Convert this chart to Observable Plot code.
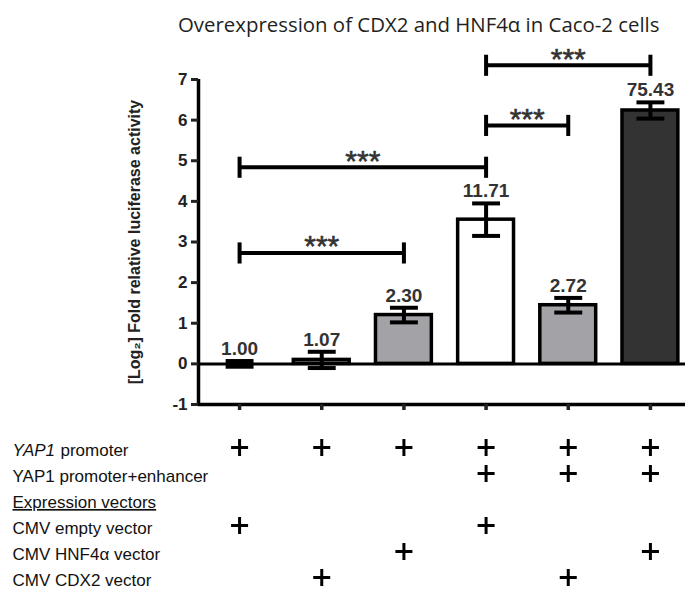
<!DOCTYPE html>
<html><head><meta charset="utf-8">
<script src="https://cdn.jsdelivr.net/npm/d3@7"></script>
<script src="https://cdn.jsdelivr.net/npm/@observablehq/plot@0.6"></script>
<style>
body{margin:0;background:#fff;width:685px;height:592px;overflow:hidden;}
#title{height:38px;box-sizing:border-box;padding:14px 0 0 178px;font-family:"Open Sans",sans-serif;font-size:20.4px;line-height:20px;color:#231f20;white-space:nowrap;}
svg{display:block}
</style></head><body>
<div id="title">Overexpression of CDX2 and HNF4α in Caco-2 cells</div>
<div id="chart"></div>
<div id="table"></div>
<script>
// ---- data ----
const conditions = ["promoter+empty", "promoter+CDX2", "promoter+HNF4α", "enhancer+empty", "enhancer+CDX2", "enhancer+HNF4α"];
const foldChange = [1.00, 1.07, 2.30, 11.71, 2.72, 75.43];
const errLog2 = [0.07, 0.20, 0.18, 0.40, 0.18, 0.20];
const barGroup = ["empty", "CDX2", "HNF4α", "empty+enh", "CDX2+enh", "HNF4α+enh"];

const sigFrom = [0, 0, 3, 3];
const sigTo = [2, 3, 4, 5];
const sigLevel = [2.73, 4.84, 5.87, 7.35];
const sigLabel = ["***", "***", "***", "***"];

const yTicks = [-1, 0, 1, 2, 3, 4, 5, 6, 7];
const yLabel = "[Log₂] Fold relative luciferase activity";

const tableRows = ["YAP1 promoter", "YAP1 promoter+enhancer", "Expression vectors", "CMV empty vector", "CMV HNF4α vector", "CMV CDX2 vector"];
const hasPromoter = [1, 1, 1, 1, 1, 1];
const hasEnhancer = [0, 0, 0, 1, 1, 1];
const hasEmpty    = [1, 0, 0, 1, 0, 0];
const hasHNF4a    = [0, 0, 1, 0, 0, 1];
const hasCDX2     = [0, 1, 0, 0, 1, 0];

// ---- derived ----
const bars = conditions.map((c, i) => {
  const v = Math.log2(foldChange[i]);
  return {i, cond: c, group: barGroup[i], v, lo: v - errLog2[i], hi: v + errLog2[i], label: foldChange[i].toFixed(2)};
});
const sig = sigFrom.map((a, k) => ({a, b: sigTo[k], mid: (a + sigTo[k]) / 2, level: sigLevel[k], lab: sigLabel[k]}));

const plusData = [];
[[tableRows[0], hasPromoter], [tableRows[1], hasEnhancer], [tableRows[3], hasEmpty], [tableRows[4], hasHNF4a], [tableRows[5], hasCDX2]]
  .forEach(([row, flags]) => flags.forEach((f, i) => { if (f) plusData.push({row, i}); }));

const xOpts = {type: "linear", domain: [-0.5, 5.5], range: [198, 691], axis: null};
const half = 0.34, capHalf = 0.17;
const font = "'Liberation Sans', Arial, sans-serif";

const chart = Plot.plot({
  width: 685, height: 399,
  marginTop: 41, marginBottom: 33, marginLeft: 198, marginRight: 0,
  style: {fontFamily: font, color: "#222", background: "transparent", overflow: "visible"},
  x: xOpts,
  y: {domain: [-1, 7], axis: null},
  color: {domain: barGroup, range: ["#111111", "#a3a3a7", "#a3a3a7", "#ffffff", "#a3a3a7", "#333333"]},
  marks: [
    Plot.rectY(bars, {x1: d => d.i - half, x2: d => d.i + half, y1: 0, y2: "v", fill: "group", stroke: "#000", strokeWidth: 3.5}),
    Plot.ruleY([0], {stroke: "#000", strokeWidth: 3}),
    Plot.ruleY([-1], {stroke: "#000", strokeWidth: 3.5}),
    Plot.ruleX([-0.5], {y1: -1, y2: 7, stroke: "#000", strokeWidth: 3.5}),
    Plot.axisY({ticks: yTicks, tickSize: 7, tickPadding: 4, strokeWidth: 3, fontSize: 17, fontWeight: "bold", tickFormat: d => String(d), label: null, anchor: "left"}),
    Plot.axisX({ticks: [0, 1, 2, 3, 4, 5], tickSize: 6, strokeWidth: 3.5, tickFormat: () => "", label: null, anchor: "bottom"}),
    Plot.ruleX(bars, {x: "i", y1: "lo", y2: "hi", stroke: "#000", strokeWidth: 4}),
    Plot.link(bars, {x1: d => d.i - capHalf, x2: d => d.i + capHalf, y1: "hi", y2: "hi", stroke: "#000", strokeWidth: 4}),
    Plot.link(bars, {x1: d => d.i - capHalf, x2: d => d.i + capHalf, y1: "lo", y2: "lo", stroke: "#000", strokeWidth: 4}),
    Plot.text(bars, {x: "i", y: "hi", text: "label", lineAnchor: "bottom", dy: -6, fontSize: 19, fontWeight: "bold", fill: "#333"}),
    Plot.link(sig, {x1: "a", x2: "b", y1: "level", y2: "level", stroke: "#000", strokeWidth: 4}),
    Plot.link(sig, {x1: "a", x2: "a", y1: d => d.level - 0.26, y2: d => d.level + 0.26, stroke: "#000", strokeWidth: 4}),
    Plot.link(sig, {x1: "b", x2: "b", y1: d => d.level - 0.26, y2: d => d.level + 0.26, stroke: "#000", strokeWidth: 4}),
    Plot.text(sig, {x: "mid", y: "level", text: "lab", lineAnchor: "bottom", dy: 3.5, fontSize: 30, fill: "#333", stroke: "#333", strokeWidth: 0.6}),
    Plot.text([yLabel], {frameAnchor: "left", textAnchor: "middle", rotate: -90, dx: -64, fontSize: 16, fontWeight: "bold", fill: "#222"})
  ]
});
document.getElementById("chart").appendChild(chart);

const table = Plot.plot({
  width: 685, height: 155,
  marginTop: 0, marginBottom: 0, marginLeft: 0, marginRight: 0,
  style: {fontFamily: font, color: "#111", background: "transparent", overflow: "visible"},
  x: xOpts,
  y: {type: "point", domain: tableRows, range: [11, 145], padding: 0, axis: null},
  marks: [
    Plot.dot(plusData, {x: "i", y: "row", symbol: "plus", r: 5.54, stroke: "#000", strokeWidth: 3, dy: -3}),
    Plot.text([tableRows[0]], {y: d => d, text: d => d.split(" ")[0], frameAnchor: "left", textAnchor: "start", dx: 12, fontSize: 17, fontStyle: "italic"}),
    Plot.text([tableRows[0]], {y: d => d, text: d => d.split(" ").slice(1).join(" "), frameAnchor: "left", textAnchor: "start", dx: 60, fontSize: 17}),
    Plot.text(tableRows.slice(1), {y: d => d, text: d => d, frameAnchor: "left", textAnchor: "start", dx: 12, fontSize: 17})
  ]
});
d3.select(table).selectAll("text").filter(function () { return this.textContent === "Expression vectors"; }).attr("text-decoration", "underline");
document.getElementById("table").appendChild(table);
</script>
</body></html>
